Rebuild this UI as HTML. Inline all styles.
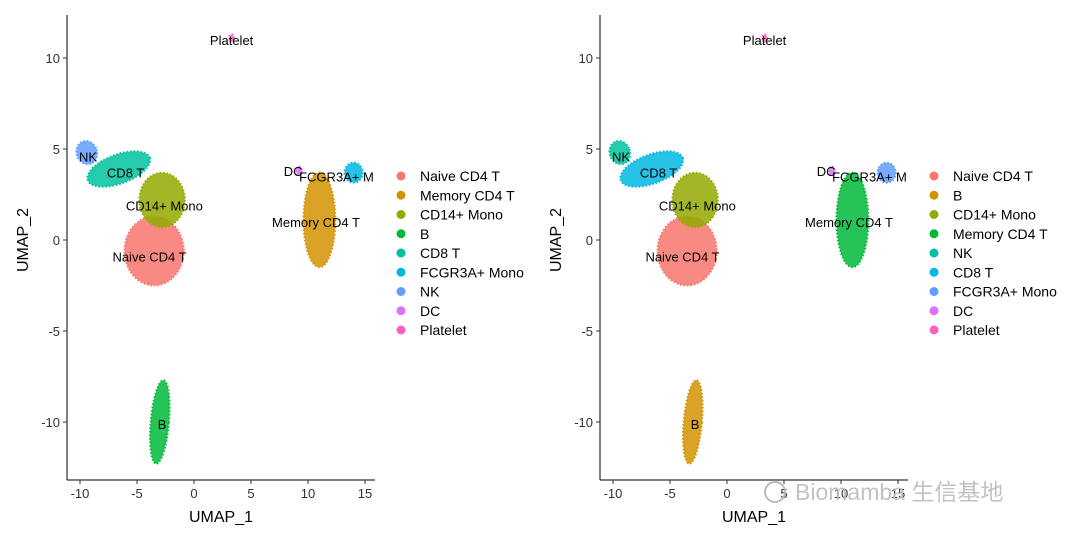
<!DOCTYPE html>
<html><head><meta charset="utf-8">
<style>
body{margin:0;background:#fff;}
svg{display:block;font-family:"Liberation Sans","Noto Sans CJK SC",sans-serif;}
</style></head>
<body>
<svg id="chart" width="1080" height="540" viewBox="0 0 1080 540"></svg>
<script>
// cluster geometry (UMAP units)
const clusterNames = ["Naive CD4 T","Memory CD4 T","CD14+ Mono","B","CD8 T","FCGR3A+ Mono","NK","DC","Platelet"];
const clusterCx = [-3.5, 11.0, -2.8, -3.0, -6.6, 14.0, -9.4, 9.2, 3.3];
const clusterCy = [-0.6, 1.1, 2.2, -10.0, 3.9, 3.7, 4.8, 3.8, 11.1];
const clusterRx = [2.6, 1.4, 2.0, 0.8, 2.9, 0.8, 0.9, 0.25, 0.2];
const clusterRy = [1.9, 2.6, 1.5, 2.3, 0.8, 0.55, 0.65, 0.25, 0.2];
const clusterAngle = [0, 0, 0, 5, -20, 0, -20, 0, 0];
// label positions (UMAP units)
const labelX = [-3.9, 10.7, -2.6, -2.8, -6.0, 12.5, -9.3, 8.7, 3.3];
const labelY = [-0.9, 1.0, 1.9, -10.1, 3.7, 3.5, 4.6, 3.8, 11.0];
// legends
const leftLegend = ["Naive CD4 T","Memory CD4 T","CD14+ Mono","B","CD8 T","FCGR3A+ Mono","NK","DC","Platelet"];
const rightLegend = ["Naive CD4 T","B","CD14+ Mono","Memory CD4 T","NK","CD8 T","FCGR3A+ Mono","DC","Platelet"];
const hueColors = ["#F8766D","#D39200","#93AA00","#00BA38","#00C19F","#00B9E3","#619CFF","#DB72FB","#FF61C3"];
const xTicks = [-10,-5,0,5,10,15];
const yTicks = [10,5,0,-5,-10];

const NS="http://www.w3.org/2000/svg";
const svg=document.getElementById('chart');
function mk(tag,attrs,parent){const e=document.createElementNS(NS,tag);for(const k in attrs)e.setAttribute(k,attrs[k]);(parent||svg).appendChild(e);return e;}

function panel(off, legend, pname){
  const sx=v=>194+off+v*11.4;
  const sy=v=>240-v*18.2;
  const L=67+off, R=(off?908:375), T=15, B=480;
  const g=mk('g',{});
  
  
  const cp=mk('clipPath',{id:'clip'+off},g);
  mk('rect',{x:L,y:T,width:R-L,height:B-T},cp);
  const pts=mk('g',{'clip-path':'url(#clip'+off+')'},g);
  clusterNames.forEach((n,i)=>{
    const col=hueColors[legend.indexOf(n)];
    const e=mk('ellipse',{cx:sx(clusterCx[i]),cy:sy(clusterCy[i]),rx:clusterRx[i]*11.4,ry:clusterRy[i]*18.2,
      fill:col,'fill-opacity':0.85,stroke:col,'stroke-width':2,'stroke-dasharray':'1.5 2',
      transform:`rotate(${clusterAngle[i]} ${sx(clusterCx[i])} ${sy(clusterCy[i])})`},pts);
    
    
  });
  clusterNames.forEach((n,i)=>{
    const t=mk('text',{x:sx(labelX[i]),y:sy(labelY[i])+5,'font-size':13,'text-anchor':'middle',fill:'#000'},pts);
    t.textContent=(n==="FCGR3A+ Mono")?"FCGR3A+ M":n;
    
    
  });
  mk('line',{x1:L,y1:T,x2:L,y2:B,stroke:'#000','stroke-width':1},g);
  mk('line',{x1:L,y1:B,x2:R,y2:B,stroke:'#000','stroke-width':1},g);
  xTicks.forEach(v=>{
    mk('line',{x1:sx(v),y1:B,x2:sx(v),y2:B+4,stroke:'#333'},g);
    const t=mk('text',{x:sx(v),y:B+18,'font-size':13,'text-anchor':'middle',fill:'#333'},g);
    t.textContent=v;
    
    
  });
  yTicks.forEach(v=>{
    mk('line',{x1:L-4,y1:sy(v),x2:L,y2:sy(v),stroke:'#333'},g);
    const t=mk('text',{x:L-7,y:sy(v)+5,'font-size':13,'text-anchor':'end',fill:'#333'},g);
    t.textContent=v;
    
    
  });
  const xt=mk('text',{x:221+off,y:522,'font-size':16,'text-anchor':'middle'},g);
  xt.textContent='UMAP_1';
  
  
  const yt=mk('text',{x:0,y:0,'font-size':16,'text-anchor':'middle',transform:`translate(${28+off},240) rotate(-90)`},g);
  yt.textContent='UMAP_2';
  
  
  legend.forEach((n,i)=>{
    const y=176+i*19.25;
    const le=mk('g',{},g);
    
    
    mk('circle',{cx:401+off,cy:y,r:4.5,fill:hueColors[i]},le);
    const t=mk('text',{x:420+off,y:y+5,'font-size':14,fill:'#000'},le);
    t.textContent=n;
  });
}
panel(0,leftLegend,'left-umap-panel');
panel(533,rightLegend,'right-umap-panel');
const wm=mk('text',{x:795,y:500,'font-size':23,fill:'#bbb','fill-opacity':0.9});
wm.textContent='Biomamba 生信基地';


const wi=mk('circle',{cx:775,cy:492,r:10,fill:'none',stroke:'#bbb','stroke-width':2});


</script>
</body></html>
